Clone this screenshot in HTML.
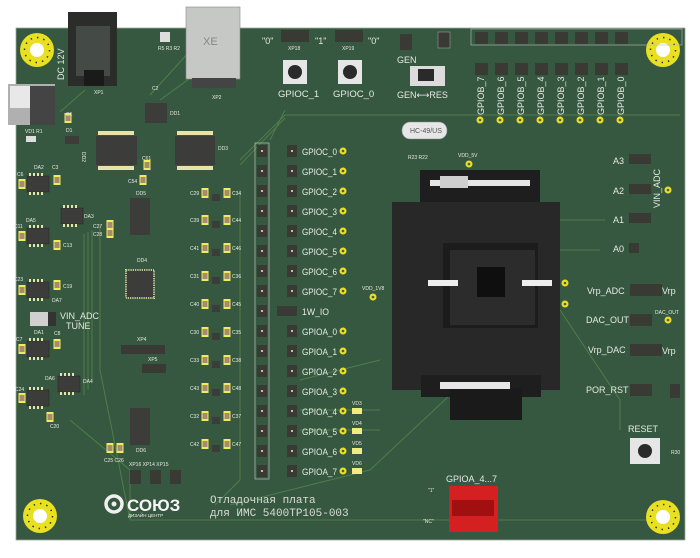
<!DOCTYPE html>
<html><head><meta charset="utf-8"><style>
html,body{margin:0;padding:0;background:#fff;width:700px;height:558px;overflow:hidden}
svg{display:block}
text{font-family:"Liberation Sans","DejaVu Sans",sans-serif;fill:#e6e9e4}
.s{font-size:5px}
.m{font-size:9px}
.l{font-size:9.5px}
</style></head><body>
<svg width="700" height="558" viewBox="0 0 700 558" xmlns="http://www.w3.org/2000/svg">
<defs>
<g id="hole"><circle r="17" fill="#e8e020"/><circle r="7" fill="#fff"/><circle r="12.5" fill="none" stroke="#333" stroke-width="1.5" stroke-dasharray="1.5 5"/></g>
<g id="gp"><rect x="-5" y="-6" width="10" height="12" fill="#3a3a34"/><rect x="-1" y="-1" width="2" height="2" fill="#d6c08a"/></g>
<g id="ydot"><circle r="3.5" fill="#e8e020"/><circle r="1.3" fill="#555"/></g>
<g id="soic"><rect x="-11" y="-8" width="22" height="16" fill="#3c3c3a" stroke="#222" stroke-width=".5"/><g fill="#e8e4a8"><rect x="-9" y="-11" width="2" height="3"/><rect x="-5" y="-11" width="2" height="3"/><rect x="-1" y="-11" width="2" height="3"/><rect x="3" y="-11" width="2" height="3"/><rect x="-9" y="8" width="2" height="3"/><rect x="-5" y="8" width="2" height="3"/><rect x="-1" y="8" width="2" height="3"/><rect x="3" y="8" width="2" height="3"/></g></g>
<g id="cap"><rect x="-3.5" y="-5" width="7" height="10" fill="#f0ec60"/><rect x="-2.5" y="-3" width="5" height="6" fill="#a88a70"/></g>
<g id="cell"><use href="#cap" x="-11"/><use href="#cap" x="11"/><rect x="-4" y="1" width="8" height="7" fill="#3c3c3a"/></g>
</defs>
<!-- board -->
<rect x="16" y="28" width="669" height="512" fill="#375840" stroke="#9aa89a" stroke-width="0.8"/>
<!-- traces -->
<g stroke="#4f7d4a" stroke-width="1" fill="none">
<path d="M240 160 L285 115 L680 115"/><path d="M240 165 L285 118"/>
<path d="M100 225 L100 370 L130 520 L260 520"/><path d="M92 230 L92 380"/><path d="M88 232 L88 390"/><path d="M84 234 L84 395"/>
<path d="M130 520 L680 520"/><path d="M70 420 L130 470 L130 520"/>
<path d="M150 95 L200 40"/><path d="M160 100 L215 60"/>
<path d="M60 112 L85 90"/><path d="M560 220 L605 220"/><path d="M560 250 L600 250"/>
<path d="M560 310 L620 400 L620 430"/><path d="M450 395 L370 470 L230 505"/>
<path d="M270 140 L285 110"/><path d="M240 190 L240 480 L215 505"/>
<path d="M380 360 L300 380"/><path d="M380 410 L300 410"/><path d="M380 430 L300 430"/>
</g>
<!-- holes -->
<use href="#hole" x="37" y="50"/><use href="#hole" x="663" y="50"/><use href="#hole" x="40" y="516"/><use href="#hole" x="663" y="517"/>
<!-- DC jack -->
<rect x="68" y="12" width="49" height="74" fill="#2a2d2a"/><rect x="76" y="26" width="34" height="50" fill="#444a45"/><rect x="84" y="70" width="20" height="16" fill="#1a1a1a"/>
<text class="m" transform="translate(64 80) rotate(-90)">DC 12V</text><text class="s" x="94" y="94">XP1</text>
<!-- ethernet -->
<rect x="186" y="7" width="54" height="72" fill="#c6c8c6" stroke="#888" stroke-width=".6"/><rect x="192" y="78" width="44" height="10" fill="#444"/><text class="s" x="203" y="45" style="fill:#888;font-size:11px">XE</text><text class="s" x="212" y="99">XP2</text>
<!-- left grey block -->
<rect x="8" y="84" width="47" height="41" fill="#b0b0b0"/><rect x="10" y="86" width="22" height="22" fill="#e8e8e8"/><rect x="30" y="86" width="25" height="39" fill="#444"/>
<!-- small top parts -->
<rect x="160" y="32" width="10" height="10" fill="#ddd"/><text class="s" x="158" y="50">R5 R3 R2</text>
<use href="#cap" x="68" y="118"/><text class="s" x="66" y="116">C1</text>
<rect x="26" y="136" width="10" height="6" fill="#ddd"/><text class="s" x="25" y="133">VD1 R1</text>
<rect x="65" y="136" width="14" height="8" fill="#3c3c3a"/><text class="s" x="66" y="132">D1</text>
<!-- ICs -->
<rect x="96" y="136" width="41" height="29" fill="#3c3c3a"/><rect x="175" y="136" width="40" height="29" fill="#3c3c3a"/>
<g fill="#e8e4a8"><rect x="98" y="131" width="36" height="4"/><rect x="98" y="166" width="36" height="4"/><rect x="177" y="131" width="36" height="4"/><rect x="177" y="166" width="36" height="4"/></g>
<text class="s" x="88" y="158" transform="rotate(90 88 152)">DD2</text><text class="s" x="218" y="150">DD3</text>
<rect x="145" y="103" width="22" height="20" fill="#3c3c3a"/><text class="s" x="170" y="115">DD1</text><text class="s" x="152" y="90">C2</text>
<rect x="130" y="198" width="20" height="37" fill="#3c3c3a"/><text class="s" x="136" y="195">DD5</text>
<rect x="126" y="270" width="28" height="28" fill="#3c3c3a" stroke="#e8e4a8" stroke-width="2" stroke-dasharray="0.8 1"/><text class="s" x="137" y="262">DD4</text>
<rect x="130" y="408" width="20" height="37" fill="#3c3c3a"/><text class="s" x="136" y="452">DD6</text>
<use href="#cap" x="147" y="165"/><text class="s" x="142" y="160">C61</text><use href="#cap" x="143" y="180"/><text class="s" x="128" y="183">C54</text>
<use href="#cap" x="110" y="225"/><use href="#cap" x="110" y="233"/><text class="s" x="93" y="228">C27</text><text class="s" x="93" y="236">C28</text>
<!-- left column ICs -->
<use href="#soic" x="38" y="184"/><use href="#soic" x="38" y="236"/><use href="#soic" x="38" y="290"/><use href="#soic" x="38" y="349"/><use href="#soic" x="38" y="398"/>
<use href="#soic" x="72" y="216"/><use href="#soic" x="69" y="384"/>
<text class="s" x="34" y="169">DA2</text><text class="s" x="26" y="222">DA5</text><text class="s" x="52" y="302">DA7</text><text class="s" x="34" y="334">DA1</text><text class="s" x="45" y="380">DA6</text><text class="s" x="84" y="218">DA3</text><text class="s" x="83" y="383">DA4</text>
<use href="#cap" x="22" y="184"/><use href="#cap" x="57" y="180"/><use href="#cap" x="22" y="236"/><use href="#cap" x="57" y="245"/><use href="#cap" x="22" y="290"/><use href="#cap" x="57" y="285"/><use href="#cap" x="22" y="349"/><use href="#cap" x="57" y="344"/><use href="#cap" x="22" y="398"/><use href="#cap" x="50" y="417"/>
<text class="s" x="17" y="176">C6</text><text class="s" x="52" y="169">C3</text><text class="s" x="14" y="228">C11</text><text class="s" x="63" y="247">C13</text><text class="s" x="14" y="281">C23</text><text class="s" x="63" y="288">C19</text><text class="s" x="16" y="341">C7</text><text class="s" x="54" y="335">C8</text><text class="s" x="15" y="391">C24</text><text class="s" x="50" y="428">C20</text>
<rect x="30" y="312" width="26" height="14" fill="#d0d0d0"/><rect x="48" y="312" width="8" height="14" fill="#333"/>
<text class="m" x="60" y="319">VIN_ADC</text><text class="m" x="66" y="329">TUNE</text>
<!-- small IC cells -->
<g><use href="#cell" x="216" y="193"/><use href="#cell" x="216" y="220"/><use href="#cell" x="216" y="248"/><use href="#cell" x="216" y="276"/><use href="#cell" x="216" y="304"/><use href="#cell" x="216" y="332"/><use href="#cell" x="216" y="360"/><use href="#cell" x="216" y="388"/><use href="#cell" x="216" y="416"/><use href="#cell" x="216" y="444"/></g>
<g class="s"><text x="190" y="195">C29</text><text x="232" y="195">C34</text><text x="190" y="222">C39</text><text x="232" y="222">C44</text><text x="190" y="250">C41</text><text x="232" y="250">C46</text><text x="190" y="278">C31</text><text x="232" y="278">C36</text><text x="190" y="306">C40</text><text x="232" y="306">C45</text><text x="190" y="334">C30</text><text x="232" y="334">C35</text><text x="190" y="362">C33</text><text x="232" y="362">C38</text><text x="190" y="390">C43</text><text x="232" y="390">C48</text><text x="190" y="418">C32</text><text x="232" y="418">C37</text><text x="190" y="446">C42</text><text x="232" y="446">C47</text></g>
<!-- XP4 XP5 -->
<rect x="121" y="345" width="44" height="9" fill="#3a3a34"/><rect x="142" y="364" width="24" height="9" fill="#3a3a34"/><text class="s" x="137" y="341">XP4</text><text class="s" x="148" y="361">XP5</text>
<use href="#cap" x="110" y="448"/><use href="#cap" x="120" y="448"/><text class="s" x="104" y="462">C25 C26</text>
<g><rect x="130" y="470" width="11" height="14" fill="#3a3a34"/><rect x="150" y="470" width="11" height="14" fill="#3a3a34"/><rect x="170" y="470" width="11" height="14" fill="#3a3a34"/></g>
<text class="s" x="129" y="466">XP16 XP14 XP15</text>
<!-- header column -->
<rect x="255" y="143" width="14" height="336" fill="none" stroke="#b8c0b8" stroke-width=".7"/>
<g><use href="#gp" x="262" y="151"/><use href="#gp" x="262" y="171"/><use href="#gp" x="262" y="191"/><use href="#gp" x="262" y="211"/><use href="#gp" x="262" y="231"/><use href="#gp" x="262" y="251"/><use href="#gp" x="262" y="271"/><use href="#gp" x="262" y="291"/><use href="#gp" x="262" y="311"/><use href="#gp" x="262" y="331"/><use href="#gp" x="262" y="351"/><use href="#gp" x="262" y="371"/><use href="#gp" x="262" y="391"/><use href="#gp" x="262" y="411"/><use href="#gp" x="262" y="431"/><use href="#gp" x="262" y="451"/><use href="#gp" x="262" y="471"/></g>
<g><use href="#gp" x="292" y="151"/><use href="#gp" x="292" y="171"/><use href="#gp" x="292" y="191"/><use href="#gp" x="292" y="211"/><use href="#gp" x="292" y="231"/><use href="#gp" x="292" y="251"/><use href="#gp" x="292" y="271"/><use href="#gp" x="292" y="291"/><rect x="277" y="306" width="20" height="10" fill="#3a3a34"/><use href="#gp" x="292" y="331"/><use href="#gp" x="292" y="351"/><use href="#gp" x="292" y="371"/><use href="#gp" x="292" y="391"/><use href="#gp" x="292" y="411"/><use href="#gp" x="292" y="431"/><use href="#gp" x="292" y="451"/><use href="#gp" x="292" y="471"/></g>
<g class="l"><text x="302" y="155" textLength="35" lengthAdjust="spacingAndGlyphs">GPIOC_0</text><text x="302" y="175" textLength="35" lengthAdjust="spacingAndGlyphs">GPIOC_1</text><text x="302" y="195" textLength="35" lengthAdjust="spacingAndGlyphs">GPIOC_2</text><text x="302" y="215" textLength="35" lengthAdjust="spacingAndGlyphs">GPIOC_3</text><text x="302" y="235" textLength="35" lengthAdjust="spacingAndGlyphs">GPIOC_4</text><text x="302" y="255" textLength="35" lengthAdjust="spacingAndGlyphs">GPIOC_5</text><text x="302" y="275" textLength="35" lengthAdjust="spacingAndGlyphs">GPIOC_6</text><text x="302" y="295" textLength="35" lengthAdjust="spacingAndGlyphs">GPIOC_7</text><text x="302" y="315" textLength="27" lengthAdjust="spacingAndGlyphs">1W_IO</text><text x="302" y="335" textLength="35" lengthAdjust="spacingAndGlyphs">GPIOA_0</text><text x="302" y="355" textLength="35" lengthAdjust="spacingAndGlyphs">GPIOA_1</text><text x="302" y="375" textLength="35" lengthAdjust="spacingAndGlyphs">GPIOA_2</text><text x="302" y="395" textLength="35" lengthAdjust="spacingAndGlyphs">GPIOA_3</text><text x="302" y="415" textLength="35" lengthAdjust="spacingAndGlyphs">GPIOA_4</text><text x="302" y="435" textLength="35" lengthAdjust="spacingAndGlyphs">GPIOA_5</text><text x="302" y="455" textLength="35" lengthAdjust="spacingAndGlyphs">GPIOA_6</text><text x="302" y="475" textLength="35" lengthAdjust="spacingAndGlyphs">GPIOA_7</text></g>
<g><use href="#ydot" x="343" y="151"/><use href="#ydot" x="343" y="171"/><use href="#ydot" x="343" y="191"/><use href="#ydot" x="343" y="211"/><use href="#ydot" x="343" y="231"/><use href="#ydot" x="343" y="251"/><use href="#ydot" x="343" y="271"/><use href="#ydot" x="343" y="291"/><use href="#ydot" x="343" y="331"/><use href="#ydot" x="343" y="351"/><use href="#ydot" x="343" y="371"/><use href="#ydot" x="343" y="391"/><use href="#ydot" x="343" y="411"/><use href="#ydot" x="343" y="431"/><use href="#ydot" x="343" y="451"/><use href="#ydot" x="343" y="471"/></g>
<g fill="#f0ec80"><rect x="352" y="408" width="10" height="6"/><rect x="352" y="428" width="10" height="6"/><rect x="352" y="448" width="10" height="6"/><rect x="352" y="468" width="10" height="6"/></g>
<g class="s"><text x="352" y="405">VD3</text><text x="352" y="425">VD4</text><text x="352" y="445">VD5</text><text x="352" y="465">VD6</text></g>
<!-- top buttons -->
<text class="m" x="262" y="44">"0"</text><rect x="281" y="30" width="28" height="12" fill="#3a3a34"/><text class="s" x="288" y="50">XP18</text><text class="m" x="315" y="44">"1"</text><rect x="335" y="30" width="28" height="12" fill="#3a3a34"/><text class="s" x="342" y="50">XP19</text><text class="m" x="368" y="44">"0"</text>
<rect x="283" y="60" width="24" height="24" fill="#e6e6e6"/><circle cx="295" cy="72" r="7" fill="#2a2a2a"/><rect x="338" y="60" width="24" height="24" fill="#e6e6e6"/><circle cx="350" cy="72" r="7" fill="#2a2a2a"/>
<text class="l" x="278" y="97">GPIOC_1</text><text class="l" x="333" y="97">GPIOC_0</text>
<!-- GEN -->
<rect x="400" y="34" width="12" height="16" fill="#3a3a34"/><text class="m" x="397" y="63">GEN</text><rect x="438" y="32" width="12" height="16" fill="#3a3a34" stroke="#aaa" stroke-width=".5"/>
<rect x="410" y="66" width="35" height="20" fill="#dcdcdc"/><rect x="418" y="69" width="16" height="12" fill="#2a2a2a"/>
<text class="m" x="397" y="98">GEN⟷RES</text>
<rect x="402" y="122" width="45" height="17" rx="8" fill="#e6e6e6" stroke="#888" stroke-width=".6"/><text class="s" x="410" y="133" style="fill:#555;font-size:7px">HC-49/US</text><text class="s" x="408" y="159">R23 R22</text>
<!-- GPIOB headers -->
<rect x="471" y="29" width="211" height="16" fill="none" stroke="#b8c0b8" stroke-width=".6"/>
<g fill="#3a3a34"><rect x="475" y="32" width="13" height="12"/><rect x="495" y="32" width="13" height="12"/><rect x="515" y="32" width="13" height="12"/><rect x="535" y="32" width="13" height="12"/><rect x="555" y="32" width="13" height="12"/><rect x="575" y="32" width="13" height="12"/><rect x="595" y="32" width="13" height="12"/><rect x="615" y="32" width="13" height="12"/>
<rect x="475" y="63" width="13" height="12"/><rect x="495" y="63" width="13" height="12"/><rect x="515" y="63" width="13" height="12"/><rect x="535" y="63" width="13" height="12"/><rect x="555" y="63" width="13" height="12"/><rect x="575" y="63" width="13" height="12"/><rect x="595" y="63" width="13" height="12"/><rect x="615" y="63" width="13" height="12"/></g>
<g class="m"><text transform="translate(484 115) rotate(-90)">GPIOB_7</text><text transform="translate(504 115) rotate(-90)">GPIOB_6</text><text transform="translate(524 115) rotate(-90)">GPIOB_5</text><text transform="translate(544 115) rotate(-90)">GPIOB_4</text><text transform="translate(564 115) rotate(-90)">GPIOB_3</text><text transform="translate(584 115) rotate(-90)">GPIOB_2</text><text transform="translate(604 115) rotate(-90)">GPIOB_1</text><text transform="translate(624 115) rotate(-90)">GPIOB_0</text></g>
<g><use href="#ydot" x="480" y="120"/><use href="#ydot" x="500" y="120"/><use href="#ydot" x="520" y="120"/><use href="#ydot" x="540" y="120"/><use href="#ydot" x="560" y="120"/><use href="#ydot" x="580" y="120"/><use href="#ydot" x="600" y="120"/><use href="#ydot" x="620" y="120"/></g>
<!-- socket -->
<rect x="392" y="202" width="168" height="188" fill="#282828"/><rect x="420" y="170" width="120" height="32" fill="#1e1e1e"/>
<rect x="430" y="180" width="100" height="6" fill="#e6e6e6"/><rect x="440" y="176" width="28" height="12" fill="#cfcfcf"/>
<rect x="443" y="243" width="95" height="85" fill="#1c1c1c"/><rect x="450" y="250" width="85" height="75" fill="#2c2c2c"/>
<rect x="477" y="267" width="28" height="30" fill="#0f0f0f"/>
<rect x="428" y="280" width="30" height="6" fill="#eee"/><rect x="522" y="280" width="30" height="6" fill="#eee"/>
<rect x="421" y="375" width="120" height="22" fill="#1e1e1e"/><rect x="450" y="388" width="72" height="32" fill="#1a1a1a"/><rect x="440" y="382" width="70" height="7" fill="#e6e6e6"/>
<use href="#ydot" x="469" y="164"/><text class="s" x="458" y="157">VDD_5V</text>
<use href="#ydot" x="373" y="297"/><text class="s" x="362" y="290">VDD_1V8</text>
<use href="#ydot" x="565" y="283"/><use href="#ydot" x="565" y="304"/>
<!-- right side -->
<g class="m"><text x="613" y="164">A3</text><text x="613" y="194">A2</text><text x="613" y="223">A1</text><text x="613" y="252">A0</text></g>
<g fill="#3a3a34"><rect x="629" y="154" width="22" height="10"/><rect x="629" y="184" width="22" height="10"/><rect x="629" y="213" width="22" height="10"/><rect x="629" y="243" width="10" height="10"/></g>
<text class="m" transform="translate(660 208) rotate(-90)">VIN_ADC</text><use href="#ydot" x="668" y="190"/>
<g class="m"><text x="587" y="294">Vrp_ADC</text><text x="586" y="323">DAC_OUT</text><text x="588" y="353">Vrp_DAC</text><text x="586" y="393">POR_RST</text><text x="628" y="432">RESET</text></g>
<g fill="#3a3a34"><rect x="630" y="284" width="32" height="12"/><rect x="630" y="314" width="22" height="12"/><rect x="630" y="344" width="32" height="12"/><rect x="630" y="384" width="22" height="12"/><rect x="670" y="384" width="10" height="14"/></g>
<text class="m" x="662" y="294">Vrp</text><text class="m" x="662" y="354">Vrp</text><use href="#ydot" x="668" y="320"/><text class="s" x="655" y="314">DAC_OUT</text>
<rect x="630" y="438" width="30" height="26" fill="#e6e6e6"/><circle cx="645" cy="451" r="7" fill="#2a2a2a"/><text class="s" x="671" y="454">R30</text>
<!-- red dip -->
<text class="m" x="446" y="482">GPIOA_4...7</text><text class="s" x="428" y="492">"1"</text><text class="s" x="423" y="523">"NC"</text>
<rect x="449" y="486" width="49" height="46" fill="#d42020"/><rect x="452" y="500" width="42" height="16" fill="#a01010"/>
<!-- logo -->
<circle cx="114" cy="504" r="8" fill="none" stroke="#f0f0f0" stroke-width="3.5"/><circle cx="114" cy="504" r="2.5" fill="#f0f0f0"/>
<text x="127" y="511" style="font-size:17px;font-weight:bold;fill:#f4f4f4">СОЮЗ</text>
<text x="128" y="517" style="font-size:4.5px;fill:#f4f4f4">ДИЗАЙН ЦЕНТР</text>
<text x="210" y="503" style="font-family:'Liberation Mono','DejaVu Sans Mono',monospace;font-size:11px;fill:#d8ddd6">Отладочная плата</text>
<text x="210" y="516" style="font-family:'Liberation Mono','DejaVu Sans Mono',monospace;font-size:11px;fill:#d8ddd6">для ИМС 5400ТР105-003</text>
</svg>
</body></html>
